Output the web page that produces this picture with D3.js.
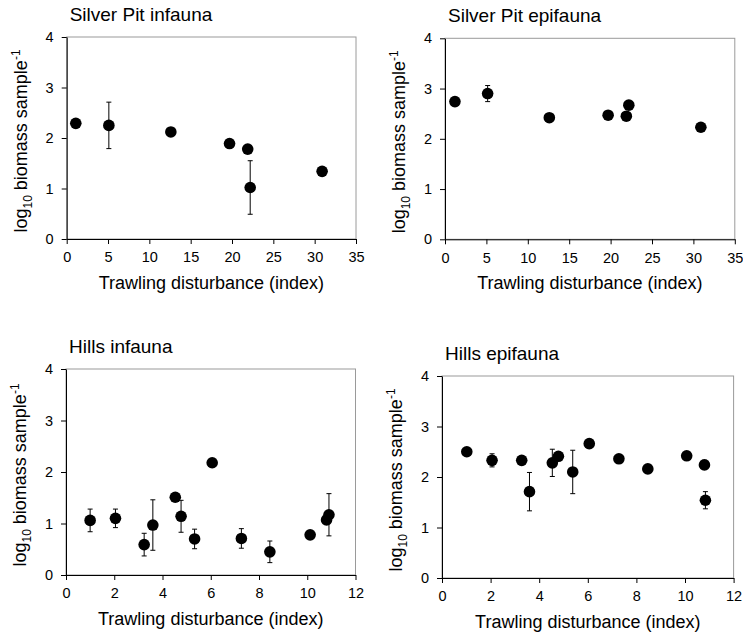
<!DOCTYPE html>
<html>
<head>
<meta charset="utf-8">
<script src="https://cdn.jsdelivr.net/npm/d3@7"></script>
<style>
  body { margin: 0; background: #fff; }
  svg { display: block; }
  text { font-family: "Liberation Sans", Arial, sans-serif; fill: #000; }
</style>
</head>
<body>
<div id="chart"></div>
<script>
// Panel titles
var titles = ["Silver Pit infauna", "Silver Pit epifauna", "Hills infauna", "Hills epifauna"];

// Silver Pit infauna
var spInX   = [1.1, 5.1, 12.6, 19.7, 21.9, 22.2, 30.9];
var spInY   = [2.29, 2.25, 2.12, 1.89, 1.78, 1.02, 1.34];
var spInErr = [0.08, 0.46, 0, 0, 0, 0.53, 0];

// Silver Pit epifauna
var spEpX   = [1.2, 5.15, 12.6, 19.7, 21.9, 22.2, 30.9];
var spEpY   = [2.74, 2.90, 2.42, 2.47, 2.45, 2.67, 2.23];
var spEpErr = [0, 0.16, 0, 0, 0.08, 0, 0];

// Hills infauna
var hInX   = [1.0, 2.05, 3.24, 3.6, 4.53, 4.77, 5.33, 6.06, 7.27, 8.45, 10.12, 10.8, 10.9];
var hInY   = [1.06, 1.10, 0.59, 0.97, 1.51, 1.14, 0.70, 2.18, 0.71, 0.45, 0.78, 1.07, 1.17];
var hInErr = [0.22, 0.18, 0.22, 0.49, 0, 0.31, 0.19, 0, 0.19, 0.21, 0, 0, 0.41];

// Hills epifauna
var hEpX   = [1.02, 2.06, 3.28, 3.6, 4.54, 4.79, 5.38, 6.06, 7.28, 8.47, 10.07, 10.8, 10.84];
var hEpY   = [2.50, 2.33, 2.33, 1.71, 2.28, 2.41, 2.10, 2.66, 2.36, 2.16, 2.42, 2.24, 1.54];
var hEpErr = [0, 0.13, 0, 0.38, 0.27, 0, 0.43, 0, 0, 0, 0, 0.09, 0.17];

var xTicksSP = [0, 5, 10, 15, 20, 25, 30, 35];
var xTicksH  = [0, 2, 4, 6, 8, 10, 12];
var yTicks   = [0, 1, 2, 3, 4];

var xTitle = "Trawling disturbance (index)";

var W = 743, H = 639;

var svg = d3.select("#chart").append("svg")
    .attr("width", W)
    .attr("height", H);

//Plot box for each panel
var panels = [
  {title: titles[0], x: spInX, y: spInY, err: spInErr, xMax: 35, xTicks: xTicksSP, left: 66.7, right: 356, top: 37, bottom: 239},
  {title: titles[1], x: spEpX, y: spEpY, err: spEpErr, xMax: 35, xTicks: xTicksSP, left: 445, right: 734.8, top: 38.3, bottom: 239.3},
  {title: titles[2], x: hInX, y: hInY, err: hInErr, xMax: 12, xTicks: xTicksH, left: 66, right: 355.5, top: 369, bottom: 575},
  {title: titles[3], x: hEpX, y: hEpY, err: hEpErr, xMax: 12, xTicks: xTicksH, left: 442, right: 733.6, top: 376, bottom: 578}
];

panels.forEach(function(p) {
  var xs = d3.scaleLinear().domain([0, p.xMax]).range([p.left, p.right]);
  var ys = d3.scaleLinear().domain([0, 4]).range([p.bottom, p.top]);
  var g = svg.append("g");

  //Light frame on top and right
  g.append("rect")
    .attr("x", p.left)
    .attr("y", p.top)
    .attr("width", p.right - p.left)
    .attr("height", p.bottom - p.top)
    .attr("fill", "none")
    .attr("stroke", "#9a9a9a")
    .attr("stroke-width", 1);

  var xAxis = g.append("g")
    .attr("transform", "translate(0," + p.bottom + ")")
    .call(d3.axisBottom(xs).tickValues(p.xTicks).tickFormat(d3.format("d"))
      .tickSize(5).tickSizeOuter(0).tickPadding(8));
  var yAxis = g.append("g")
    .attr("transform", "translate(" + p.left + ",0)")
    .call(d3.axisLeft(ys).tickValues(yTicks).tickFormat(d3.format("d"))
      .tickSize(5).tickSizeOuter(0).tickPadding(8));

  [xAxis, yAxis].forEach(function(a) {
    a.selectAll("text").style("font-size", "14.5px").style("font-family", '"Liberation Sans", Arial, sans-serif').attr("fill", "#000");
    a.selectAll("line").attr("stroke", "#000");
    a.select(".domain").attr("stroke", "#000");
  });

  var pts = p.x.map(function(d, i) { return {x: d, y: p.y[i], e: p.err[i]}; });

  //Error bars
  var eb = g.selectAll(".eb")
    .data(pts.filter(function(d) { return d.e > 0; }))
    .enter().append("g");
  eb.append("line")
    .attr("x1", function(d) { return xs(d.x); })
    .attr("x2", function(d) { return xs(d.x); })
    .attr("y1", function(d) { return ys(d.y + d.e); })
    .attr("y2", function(d) { return ys(d.y - d.e); })
    .attr("stroke", "#000");
  [1, -1].forEach(function(s) {
    eb.append("line")
      .attr("x1", function(d) { return xs(d.x) - 2.5; })
      .attr("x2", function(d) { return xs(d.x) + 2.5; })
      .attr("y1", function(d) { return ys(d.y + s * d.e); })
      .attr("y2", function(d) { return ys(d.y + s * d.e); })
      .attr("stroke", "#000");
  });

  //Dots
  g.selectAll("circle")
    .data(pts)
    .enter()
    .append("circle")
    .attr("cx", function(d) { return xs(d.x); })
    .attr("cy", function(d) { return ys(d.y); })
    .attr("r", 5.8)
    .attr("fill", "#000");

  //Title
  g.append("text")
    .attr("x", p.left + 3)
    .attr("y", p.top - 16)
    .style("font-size", "19px")
    .text(p.title);

  //X axis title
  g.append("text")
    .attr("x", (p.left + p.right) / 2)
    .attr("y", p.bottom + 50)
    .attr("text-anchor", "middle")
    .style("font-size", "18px")
    .text(xTitle);

  //Y axis title
  var yl = g.append("text")
    .attr("transform", "translate(" + (p.left - 40) + "," + ((p.top + p.bottom) / 2 + 3) + ") rotate(-90)")
    .attr("text-anchor", "middle")
    .style("font-size", "18px");
  yl.append("tspan").text("log");
  yl.append("tspan").attr("dy", 5).style("font-size", "12px").text("10");
  yl.append("tspan").attr("dy", -5).text(" biomass sample");
  yl.append("tspan").attr("dy", -7).style("font-size", "12px").text("-1");
});
</script>
</body>
</html>
